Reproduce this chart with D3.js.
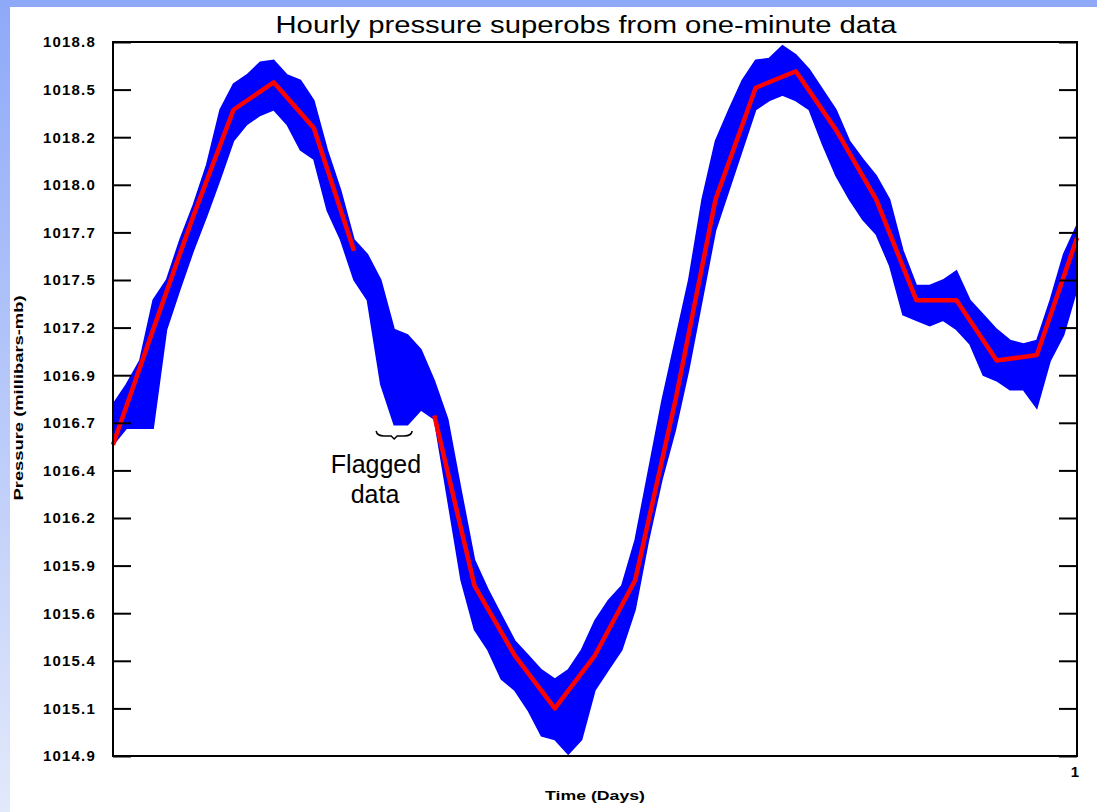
<!DOCTYPE html>
<html>
<head>
<meta charset="utf-8">
<script src="https://cdn.jsdelivr.net/npm/d3@7"></script>
<style>
    html, body { margin: 0; padding: 0; }
    body { width: 1097px; height: 812px; overflow: hidden; }
    svg { display: block; }
</style>
</head>
<body>
<script>
// hourly superobs (red), null = flagged hour
var hours = d3.range(25);
var hourlyPressure = [1016.60, 1017.23, 1017.85, 1018.43, 1018.58, 1018.33, 1017.66, null,
    1016.76, 1015.83, 1015.45, 1015.16, 1015.45, 1015.86, 1016.84, 1017.94, 1018.55,
    1018.64, 1018.32, 1017.94, 1017.39, 1017.39, 1017.06, 1017.09, 1017.73];

// one-minute data, read as high / low envelope every 20 minutes (blue)
var minuteHigh = [1016.82, 1016.93, 1017.06, 1017.39, 1017.50, 1017.72, 1017.91, 1018.13, 1018.43,
    1018.57, 1018.62, 1018.69, 1018.70, 1018.62, 1018.59, 1018.48, 1018.21, 1017.99, 1017.72,
    1017.64, 1017.50, 1017.23, 1017.20, 1017.12, 1016.95, 1016.74, 1016.35, 1015.97, 1015.81,
    1015.67, 1015.53, 1015.45, 1015.37, 1015.32, 1015.37, 1015.48, 1015.64, 1015.75, 1015.83,
    1016.08, 1016.46, 1016.84, 1017.17, 1017.50, 1017.94, 1018.26, 1018.43, 1018.59, 1018.70,
    1018.71, 1018.78, 1018.73, 1018.65, 1018.54, 1018.43, 1018.26, 1018.16, 1018.07, 1017.94,
    1017.66, 1017.47, 1017.47, 1017.50, 1017.55, 1017.39, 1017.31, 1017.23, 1017.17, 1017.15,
    1017.17, 1017.39, 1017.64, 1017.80];
var minuteLow = [1016.60, 1016.69, 1016.69, 1016.69, 1017.23, 1017.45, 1017.66, 1017.85, 1018.05,
    1018.26, 1018.35, 1018.40, 1018.43, 1018.35, 1018.21, 1018.16, 1017.88, 1017.72, 1017.50,
    1017.39, 1016.93, 1016.71, 1016.71, 1016.79, 1016.74, 1016.30, 1015.86, 1015.59, 1015.48,
    1015.32, 1015.26, 1015.15, 1015.01, 1014.99, 1014.91, 1014.99, 1015.26, 1015.37, 1015.48,
    1015.70, 1016.08, 1016.41, 1016.68, 1017.01, 1017.39, 1017.77, 1017.99, 1018.21, 1018.43,
    1018.48, 1018.51, 1018.48, 1018.43, 1018.24, 1018.07, 1017.94, 1017.83, 1017.75, 1017.58,
    1017.31, 1017.28, 1017.25, 1017.28, 1017.23, 1017.15, 1016.98, 1016.95, 1016.90, 1016.90,
    1016.80, 1017.06, 1017.20, 1017.45];

var yTickValues = [1014.9, 1015.16, 1015.42, 1015.68, 1015.94, 1016.2, 1016.46, 1016.72,
    1016.98, 1017.24, 1017.5, 1017.76, 1018.02, 1018.28, 1018.54, 1018.8];
var yTickLabels = ["1014.9", "1015.1", "1015.4", "1015.6", "1015.9", "1016.2", "1016.4", "1016.7",
    "1016.9", "1017.2", "1017.5", "1017.7", "1018.0", "1018.2", "1018.5", "1018.8"];

// flagged stretch, in hours
var flaggedSpan = [6.6, 7.4];

var width = 1097, height = 812;

var svg = d3.select("body").append("svg")
    .attr("width", width)
    .attr("height", height);

// slide background
var grad = svg.append("defs").append("linearGradient")
    .attr("id", "bg").attr("x1", 0).attr("y1", 0).attr("x2", 0).attr("y2", 1);
grad.append("stop").attr("offset", "0%").attr("stop-color", "#8ea9f8");
grad.append("stop").attr("offset", "100%").attr("stop-color", "#e2e9fb");
svg.append("rect").attr("width", width).attr("height", height).attr("fill", "url(#bg)");
svg.append("rect").attr("x", 10).attr("y", 7).attr("width", width - 10).attr("height", height - 7)
    .attr("fill", "#ffffff");

var x = d3.scaleLinear().domain([0, 1]).range([113, 1077]);
var y = d3.scaleLinear().domain([1014.9, 1018.8]).range([756, 42]);

var plot = svg.append("g");

// blue one-minute band
var band = d3.area()
    .x(function (d, i) { return x(i / (minuteHigh.length - 1)); })
    .y0(function (d, i) { return y(minuteLow[i]); })
    .y1(function (d) { return y(d); });

plot.append("path")
    .datum(minuteHigh)
    .attr("d", band)
    .attr("fill", "#0000ff")
    .attr("stroke", "#0000ff")
    .attr("stroke-width", 1.5);

// red hourly line
var line = d3.line()
    .defined(function (d) { return d != null; })
    .x(function (d, i) { return x(hours[i] / 24); })
    .y(function (d) { return y(d); });

plot.append("path")
    .datum(hourlyPressure)
    .attr("d", line)
    .attr("fill", "none")
    .attr("stroke", "#ff0000")
    .attr("stroke-width", 4.5)
    .attr("stroke-linejoin", "round");

// frame + ticks
svg.append("rect")
    .attr("x", x(0)).attr("y", y(1018.8))
    .attr("width", x(1) - x(0)).attr("height", y(1014.9) - y(1018.8))
    .attr("fill", "none").attr("stroke", "#000").attr("stroke-width", 2);

var leftAxis = d3.axisLeft(y)
    .tickValues(yTickValues)
    .tickSizeInner(-18)
    .tickSizeOuter(0)
    .tickPadding(17)
    .tickFormat(function (d, i) { return yTickLabels[i]; });

var gl = svg.append("g").attr("transform", "translate(" + x(0) + ",0)").call(leftAxis);
gl.select(".domain").remove();
gl.selectAll(".tick line").attr("stroke", "#000").attr("stroke-width", 2);
gl.selectAll(".tick text")
    .attr("font-family", "'Liberation Sans', Arial, sans-serif")
    .attr("font-weight", "bold")
    .attr("font-size", 15)
    .attr("letter-spacing", 1.2)
    .attr("fill", "#000");

var rightAxis = d3.axisRight(y).tickValues(yTickValues).tickSizeInner(-18).tickSizeOuter(0).tickFormat("");
var gr = svg.append("g").attr("transform", "translate(" + x(1) + ",0)").call(rightAxis);
gr.select(".domain").remove();
gr.selectAll(".tick line").attr("stroke", "#000").attr("stroke-width", 2);

svg.append("text")
    .attr("x", x(1) - 2).attr("y", 777)
    .attr("text-anchor", "middle")
    .attr("font-family", "'Liberation Sans', Arial, sans-serif")
    .attr("font-weight", "bold").attr("font-size", 15)
    .text("1");

// titles
svg.append("text")
    .attr("x", 586).attr("y", 33)
    .attr("text-anchor", "middle")
    .attr("font-family", "'Liberation Sans', Arial, sans-serif")
    .attr("font-size", 23)
    .attr("textLength", 621).attr("lengthAdjust", "spacingAndGlyphs")
    .text("Hourly pressure superobs from one-minute data");

svg.append("text")
    .attr("x", 595).attr("y", 800)
    .attr("text-anchor", "middle")
    .attr("font-family", "'Liberation Sans', Arial, sans-serif")
    .attr("font-weight", "bold").attr("font-size", 13)
    .attr("textLength", 100).attr("lengthAdjust", "spacingAndGlyphs")
    .text("Time (Days)");

svg.append("text")
    .attr("transform", "translate(23,398) rotate(-90)")
    .attr("text-anchor", "middle")
    .attr("font-family", "'Liberation Sans', Arial, sans-serif")
    .attr("font-weight", "bold").attr("font-size", 13)
    .attr("textLength", 205).attr("lengthAdjust", "spacingAndGlyphs")
    .text("Pressure (millibars-mb)");

// flagged annotation
var bx0 = x(flaggedSpan[0] / 24), bx1 = x(flaggedSpan[1] / 24), bm = (bx0 + bx1) / 2;
svg.append("path")
    .attr("d", "M" + (bx0 - 2) + ",431 Q" + (bx0 - 1) + ",436 " + (bx0 + 6) + ",436 L" + (bm - 3) + ",436 L" +
        bm + ",439 L" + (bm + 3) + ",436 L" + (bx1 - 6) + ",436 Q" + (bx1 + 1) + ",436 " + (bx1 + 2) + ",431")
    .attr("fill", "none").attr("stroke", "#000").attr("stroke-width", 1.5);

svg.append("text")
    .attr("x", 376).attr("y", 473)
    .attr("text-anchor", "middle")
    .attr("font-family", "'Liberation Sans', Arial, sans-serif")
    .attr("font-size", 25)
    .text("Flagged");
svg.append("text")
    .attr("x", 375).attr("y", 503)
    .attr("text-anchor", "middle")
    .attr("font-family", "'Liberation Sans', Arial, sans-serif")
    .attr("font-size", 25)
    .text("data");
</script>
</body>
</html>
